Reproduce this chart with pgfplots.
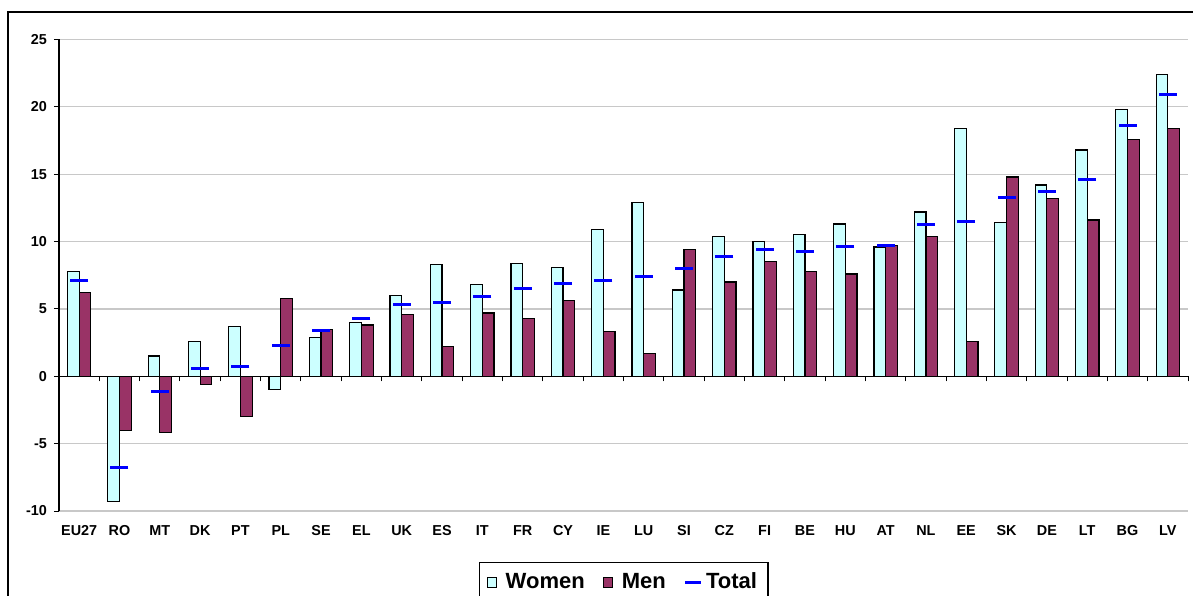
\documentclass[border=0pt]{standalone}
\usepackage{pgfplots}
\pgfplotsset{compat=1.18}
\usepackage{pgfplotstable}
\usepackage{fontspec}
\setmainfont{Liberation Sans}

\definecolor{womenfill}{HTML}{CCFFFF}
\definecolor{menfill}{HTML}{993366}
\definecolor{totalblue}{HTML}{0000FF}
\definecolor{gridgray}{HTML}{C8C8C8}

% gap by sex, percentage points
\pgfplotstableread{
x  women  men   total
0   7.8    6.2   7.1
1  -9.3   -4.0  -6.8
2   1.5   -4.2  -1.1
3   2.6   -0.6   0.6
4   3.7   -3.0   0.7
5  -1.0    5.8   2.3
6   2.9    3.5   3.4
7   4.0    3.8   4.3
8   6.0    4.6   5.3
9   8.3    2.2   5.5
10  6.8    4.7   5.9
11  8.4    4.3   6.5
12  8.1    5.6   6.9
13 10.9    3.3   7.1
14 12.9    1.7   7.4
15  6.4    9.4   8.0
16 10.4    7.0   8.9
17 10.0    8.5   9.4
18 10.5    7.8   9.3
19 11.3    7.6   9.6
20  9.6    9.7   9.7
21 12.2   10.4  11.3
22 18.4    2.6  11.5
23 11.4   14.8  13.3
24 14.2   13.2  13.7
25 16.8   11.6  14.6
26 19.8   17.6  18.6
27 22.4   18.4  20.9
}\gapdata

\begin{document}
\begin{tikzpicture}
\useasboundingbox (0,0) rectangle (596.5pt,297.5pt);
\clip (0,0) rectangle (596.5pt,297.5pt);
\begin{pgfinterruptboundingbox}
% outer chart frame
\draw[black, line width=0.8pt] (4pt,-5pt) -- (4pt,291.35pt) -- (600pt,291.35pt);

\begin{axis}[
  at={(29.5pt,42pt)}, anchor=south west,
  scale only axis, width=564.5pt, height=235.75pt,
  xmin=-0.5, xmax=27.5, ymin=-10, ymax=25,
  axis y line*=left, axis x line*=bottom,
  x axis line style={draw=none},
  y axis line style={black, line width=0.6pt},
  xtick={0,...,27},
  xticklabels={EU27,RO,MT,DK,PT,PL,SE,EL,UK,ES,IT,FR,CY,IE,LU,SI,CZ,FI,BE,HU,AT,NL,EE,SK,DE,LT,BG,LV},
  major x tick style={draw=none},
  ytick={-10,-5,...,25},
  ymajorgrids, grid style={gridgray, line width=0.6pt},
  tick align=outside,
  major y tick style={black, line width=0.5pt},
  major tick length=2.5pt,
  /pgf/number format/assume math mode=true,
  tick label style={font=\bfseries\fontsize{7.2}{8}\selectfont},
  xticklabel style={text height=5.2pt, text depth=0pt, yshift=-1pt},
  legend style={at={(0.5,0)}, anchor=north west, xshift=-72.25pt, yshift=-25.6pt,
    draw=black, line width=0.6pt, legend columns=3,
    font=\bfseries\fontsize{11}{13}\selectfont,
    /tikz/every even column/.append style={column sep=7pt},
    inner xsep=3.5pt, inner ysep=3pt},
]
\addplot[ybar, bar width=5.85pt, bar shift=-2.925pt,
  fill=womenfill, draw=black, line width=0.6pt,
  legend image code/.code={\draw[fill=womenfill, draw=black, line width=0.5pt] (0pt,-2.4pt) rectangle (4.8pt,2.4pt);
    \path (7pt,0pt);}]
  table[x=x, y=women] {\gapdata};
\addlegendentry{Women}
\addplot[ybar, bar width=5.85pt, bar shift=2.925pt,
  fill=menfill, draw=black, line width=0.6pt,
  legend image code/.code={\draw[fill=menfill, draw=black, line width=0.5pt] (0pt,-2.4pt) rectangle (4.8pt,2.4pt);
    \path (7pt,0pt);}]
  table[x=x, y=men] {\gapdata};
\addlegendentry{Men}
\addplot[only marks, mark=-, mark size=4.5pt, color=totalblue,
  mark options={line width=1.5pt},
  legend image code/.code={\draw[totalblue, line width=1.5pt] (0pt,0pt) -- (7.6pt,0pt);}]
  table[x=x, y=total] {\gapdata};
\addlegendentry{Total}
\end{axis}

% zero line with category separators
\begin{axis}[
  at={(29.5pt,42pt)}, anchor=south west,
  scale only axis, width=564.5pt, height=235.75pt,
  xmin=-0.5, xmax=27.5, ymin=-10, ymax=25,
  axis x line=middle, axis y line=none,
  axis line style={-, black, line width=0.6pt},
  xtick={-0.5,0.5,...,27.5}, xticklabels={},
  ytick=\empty,
  tick align=outside, major tick length=2.5pt,
  major x tick style={black, line width=0.5pt},
]
\end{axis}
\end{pgfinterruptboundingbox}
\end{tikzpicture}
\end{document}
